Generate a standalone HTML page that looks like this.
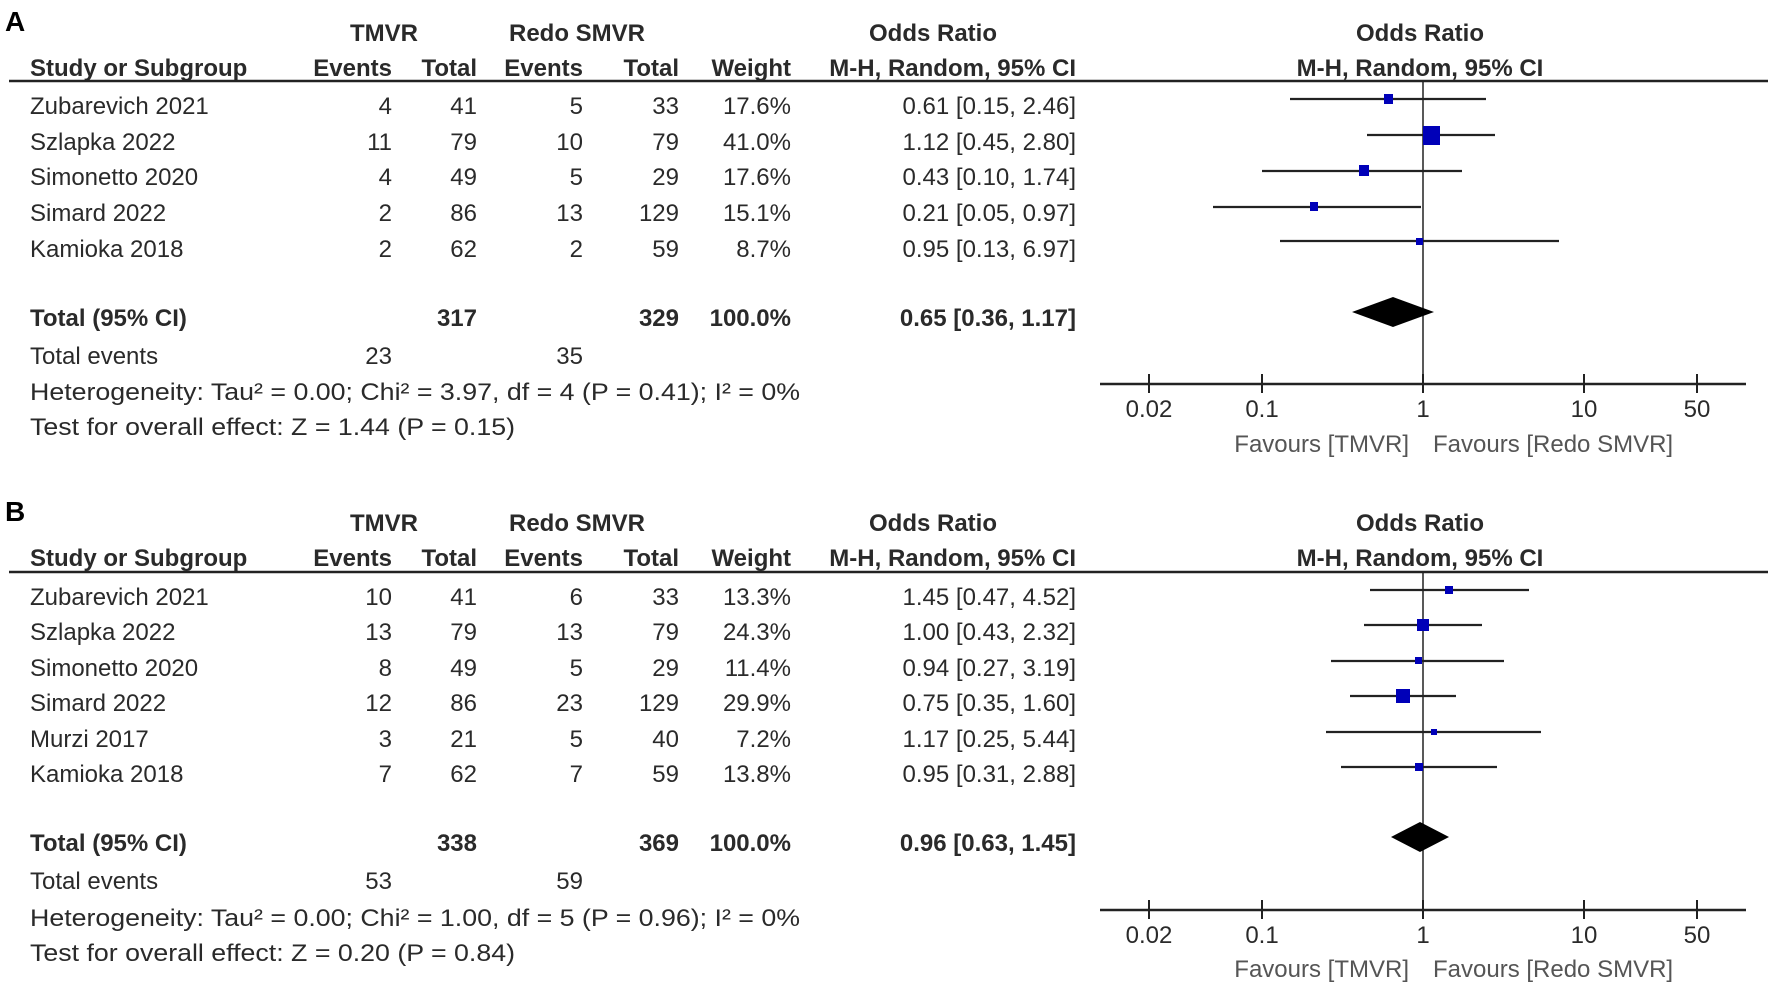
<!DOCTYPE html>
<html><head><meta charset="utf-8"><style>
html,body{margin:0;padding:0;background:#fff;}
svg{display:block;}
text{font-family:"Liberation Sans",Arial,sans-serif;font-size:24px;fill:#2a2a2a;}
.b{font-weight:bold;}
.e{text-anchor:end;}
.m{text-anchor:middle;}
</style></head><body>
<svg width="1772" height="994" viewBox="0 0 1772 994" xmlns="http://www.w3.org/2000/svg">
<!-- Panel A -->
<text x="5" y="31" class="b" style="font-size:28px;fill:#000">A</text>
<text x="384" y="41" class="b m">TMVR</text>
<text x="577" y="41" class="b m">Redo SMVR</text>
<text x="933" y="41" class="b m">Odds Ratio</text>
<text x="1420" y="41" class="b m">Odds Ratio</text>
<text x="30" y="76" class="b">Study or Subgroup</text>
<text x="392" y="76" class="b e">Events</text>
<text x="477" y="76" class="b e">Total</text>
<text x="583" y="76" class="b e">Events</text>
<text x="679" y="76" class="b e">Total</text>
<text x="791" y="76" class="b e">Weight</text>
<text x="1076" y="76" class="b e">M-H, Random, 95% CI</text>
<text x="1420" y="76" class="b m">M-H, Random, 95% CI</text>
<line x1="9" y1="81" x2="1768" y2="81" stroke="#222" stroke-width="2.5"/>

<g>
<text x="30" y="114">Zubarevich 2021</text><text x="392" y="114" class="e">4</text><text x="477" y="114" class="e">41</text><text x="583" y="114" class="e">5</text><text x="679" y="114" class="e">33</text><text x="791" y="114" class="e">17.6%</text><text x="1076" y="114" class="e">0.61 [0.15, 2.46]</text>
<text x="30" y="150">Szlapka 2022</text><text x="392" y="150" class="e">11</text><text x="477" y="150" class="e">79</text><text x="583" y="150" class="e">10</text><text x="679" y="150" class="e">79</text><text x="791" y="150" class="e">41.0%</text><text x="1076" y="150" class="e">1.12 [0.45, 2.80]</text>
<text x="30" y="185">Simonetto 2020</text><text x="392" y="185" class="e">4</text><text x="477" y="185" class="e">49</text><text x="583" y="185" class="e">5</text><text x="679" y="185" class="e">29</text><text x="791" y="185" class="e">17.6%</text><text x="1076" y="185" class="e">0.43 [0.10, 1.74]</text>
<text x="30" y="221">Simard 2022</text><text x="392" y="221" class="e">2</text><text x="477" y="221" class="e">86</text><text x="583" y="221" class="e">13</text><text x="679" y="221" class="e">129</text><text x="791" y="221" class="e">15.1%</text><text x="1076" y="221" class="e">0.21 [0.05, 0.97]</text>
<text x="30" y="257">Kamioka 2018</text><text x="392" y="257" class="e">2</text><text x="477" y="257" class="e">62</text><text x="583" y="257" class="e">2</text><text x="679" y="257" class="e">59</text><text x="791" y="257" class="e">8.7%</text><text x="1076" y="257" class="e">0.95 [0.13, 6.97]</text>
<text x="30" y="326" class="b">Total (95% CI)</text><text x="477" y="326" class="b e">317</text><text x="679" y="326" class="b e">329</text><text x="791" y="326" class="b e">100.0%</text><text x="1076" y="326" class="b e">0.65 [0.36, 1.17]</text>
<text x="30" y="364">Total events</text><text x="392" y="364" class="e">23</text><text x="583" y="364" class="e">35</text>
<text x="30" y="400" textLength="770" lengthAdjust="spacingAndGlyphs">Heterogeneity: Tau² = 0.00; Chi² = 3.97, df = 4 (P = 0.41); I² = 0%</text>
<text x="30" y="435" textLength="485" lengthAdjust="spacingAndGlyphs">Test for overall effect: Z = 1.44 (P = 0.15)</text>
</g>

<line x1="1423" y1="81" x2="1423" y2="384" stroke="#222" stroke-width="1.5"/>
<g stroke="#222" stroke-width="2.2">
<line x1="1290" y1="99" x2="1486" y2="99"/>
<line x1="1367" y1="135" x2="1495" y2="135"/>
<line x1="1262" y1="171" x2="1462" y2="171"/>
<line x1="1213" y1="207" x2="1421" y2="207"/>
<line x1="1280" y1="241" x2="1559" y2="241"/>
</g>
<g fill="#0000b8">
<rect x="1384" y="94" width="9" height="10"/>
<rect x="1423" y="126" width="17" height="19"/>
<rect x="1359" y="165" width="10" height="11"/>
<rect x="1310" y="202" width="8" height="9"/>
<rect x="1416" y="238" width="7" height="7"/>
</g>
<polygon points="1352,312 1393,297 1434,312 1393,327" fill="#000"/>
<line x1="1100" y1="384" x2="1746" y2="384" stroke="#222" stroke-width="2.5"/>
<g stroke="#222" stroke-width="2">
<line x1="1149" y1="374" x2="1149" y2="393"/>
<line x1="1262" y1="374" x2="1262" y2="393"/>
<line x1="1423" y1="374" x2="1423" y2="393"/>
<line x1="1584" y1="374" x2="1584" y2="393"/>
<line x1="1697" y1="374" x2="1697" y2="393"/>
</g>
<text x="1149" y="417" class="m">0.02</text>
<text x="1262" y="417" class="m">0.1</text>
<text x="1423" y="417" class="m">1</text>
<text x="1584" y="417" class="m">10</text>
<text x="1697" y="417" class="m">50</text>
<text x="1409" y="452" class="e" style="fill:#555">Favours [TMVR]</text>
<text x="1433" y="452" style="fill:#555">Favours [Redo SMVR]</text>

<!-- Panel B -->
<text x="5" y="521" class="b" style="font-size:28px;fill:#000">B</text>
<text x="384" y="531" class="b m">TMVR</text>
<text x="577" y="531" class="b m">Redo SMVR</text>
<text x="933" y="531" class="b m">Odds Ratio</text>
<text x="1420" y="531" class="b m">Odds Ratio</text>
<text x="30" y="566" class="b">Study or Subgroup</text>
<text x="392" y="566" class="b e">Events</text>
<text x="477" y="566" class="b e">Total</text>
<text x="583" y="566" class="b e">Events</text>
<text x="679" y="566" class="b e">Total</text>
<text x="791" y="566" class="b e">Weight</text>
<text x="1076" y="566" class="b e">M-H, Random, 95% CI</text>
<text x="1420" y="566" class="b m">M-H, Random, 95% CI</text>
<line x1="9" y1="572" x2="1768" y2="572" stroke="#222" stroke-width="2.5"/>

<g>
<text x="30" y="605">Zubarevich 2021</text><text x="392" y="605" class="e">10</text><text x="477" y="605" class="e">41</text><text x="583" y="605" class="e">6</text><text x="679" y="605" class="e">33</text><text x="791" y="605" class="e">13.3%</text><text x="1076" y="605" class="e">1.45 [0.47, 4.52]</text>
<text x="30" y="640">Szlapka 2022</text><text x="392" y="640" class="e">13</text><text x="477" y="640" class="e">79</text><text x="583" y="640" class="e">13</text><text x="679" y="640" class="e">79</text><text x="791" y="640" class="e">24.3%</text><text x="1076" y="640" class="e">1.00 [0.43, 2.32]</text>
<text x="30" y="676">Simonetto 2020</text><text x="392" y="676" class="e">8</text><text x="477" y="676" class="e">49</text><text x="583" y="676" class="e">5</text><text x="679" y="676" class="e">29</text><text x="791" y="676" class="e">11.4%</text><text x="1076" y="676" class="e">0.94 [0.27, 3.19]</text>
<text x="30" y="711">Simard 2022</text><text x="392" y="711" class="e">12</text><text x="477" y="711" class="e">86</text><text x="583" y="711" class="e">23</text><text x="679" y="711" class="e">129</text><text x="791" y="711" class="e">29.9%</text><text x="1076" y="711" class="e">0.75 [0.35, 1.60]</text>
<text x="30" y="747">Murzi 2017</text><text x="392" y="747" class="e">3</text><text x="477" y="747" class="e">21</text><text x="583" y="747" class="e">5</text><text x="679" y="747" class="e">40</text><text x="791" y="747" class="e">7.2%</text><text x="1076" y="747" class="e">1.17 [0.25, 5.44]</text>
<text x="30" y="782">Kamioka 2018</text><text x="392" y="782" class="e">7</text><text x="477" y="782" class="e">62</text><text x="583" y="782" class="e">7</text><text x="679" y="782" class="e">59</text><text x="791" y="782" class="e">13.8%</text><text x="1076" y="782" class="e">0.95 [0.31, 2.88]</text>
<text x="30" y="851" class="b">Total (95% CI)</text><text x="477" y="851" class="b e">338</text><text x="679" y="851" class="b e">369</text><text x="791" y="851" class="b e">100.0%</text><text x="1076" y="851" class="b e">0.96 [0.63, 1.45]</text>
<text x="30" y="889">Total events</text><text x="392" y="889" class="e">53</text><text x="583" y="889" class="e">59</text>
<text x="30" y="926" textLength="770" lengthAdjust="spacingAndGlyphs">Heterogeneity: Tau² = 0.00; Chi² = 1.00, df = 5 (P = 0.96); I² = 0%</text>
<text x="30" y="961" textLength="485" lengthAdjust="spacingAndGlyphs">Test for overall effect: Z = 0.20 (P = 0.84)</text>
</g>

<line x1="1423" y1="572" x2="1423" y2="910" stroke="#222" stroke-width="1.5"/>
<g stroke="#222" stroke-width="2.2">
<line x1="1370" y1="590" x2="1529" y2="590"/>
<line x1="1364" y1="625" x2="1482" y2="625"/>
<line x1="1331" y1="661" x2="1504" y2="661"/>
<line x1="1350" y1="696" x2="1456" y2="696"/>
<line x1="1326" y1="732" x2="1541" y2="732"/>
<line x1="1341" y1="767" x2="1497" y2="767"/>
</g>
<g fill="#0000b8">
<rect x="1445" y="586" width="8" height="8"/>
<rect x="1417" y="619" width="12" height="12"/>
<rect x="1415" y="657" width="7" height="7"/>
<rect x="1396" y="689" width="14" height="14"/>
<rect x="1431" y="729" width="6" height="6"/>
<rect x="1415" y="763" width="8" height="8"/>
</g>
<polygon points="1391,837 1420,822 1449,837 1420,852" fill="#000"/>
<line x1="1100" y1="910" x2="1746" y2="910" stroke="#222" stroke-width="2.5"/>
<g stroke="#222" stroke-width="2">
<line x1="1149" y1="900" x2="1149" y2="919"/>
<line x1="1262" y1="900" x2="1262" y2="919"/>
<line x1="1423" y1="900" x2="1423" y2="919"/>
<line x1="1584" y1="900" x2="1584" y2="919"/>
<line x1="1697" y1="900" x2="1697" y2="919"/>
</g>
<text x="1149" y="943" class="m">0.02</text>
<text x="1262" y="943" class="m">0.1</text>
<text x="1423" y="943" class="m">1</text>
<text x="1584" y="943" class="m">10</text>
<text x="1697" y="943" class="m">50</text>
<text x="1409" y="977" class="e" style="fill:#555">Favours [TMVR]</text>
<text x="1433" y="977" style="fill:#555">Favours [Redo SMVR]</text>
</svg>
</body></html>
